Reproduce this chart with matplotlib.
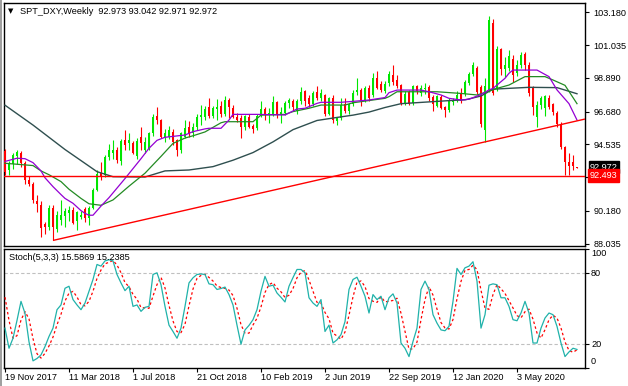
import matplotlib
matplotlib.use("Agg")
import matplotlib.pyplot as plt
import matplotlib.transforms as mtransforms
from matplotlib.patches import Rectangle
import numpy as np
import pandas as pd

plt.rcParams['font.family'] = ['Liberation Sans', 'DejaVu Sans']

# ---------------- data ----------------
title_text = "SPT_DXY,Weekly  92.973 93.042 92.971 92.972"
stoch_text = "Stoch(5,3,3) 15.5869 15.2385"

date_ticks = [0, 16, 32, 48, 64, 80, 96, 112, 128]
date_labels = ["19 Nov 2017", "11 Mar 2018", "1 Jul 2018", "21 Oct 2018", "10 Feb 2019",
               "2 Jun 2019", "22 Sep 2019", "12 Jan 2020", "3 May 2020"]

price_ticks = [103.180, 101.035, 98.890, 96.680, 94.535, 92.390, 90.180, 88.035]
price_labels = ["103.180", "101.035", "98.890", "96.680", "94.535", "", "90.180", "88.035"]
stoch_levels = [20, 80]
stoch_tick_vals = [0, 20, 80, 100]

opens = [94.10, 92.85, 93.25, 93.75, 94.00, 93.30, 92.20, 91.95, 90.85, 90.55,
         89.30, 89.10, 90.35, 89.00, 89.60, 89.85, 90.05, 90.25, 89.50, 89.78,
         90.30, 89.75, 90.40, 91.55, 92.65, 92.55, 93.70, 94.00, 94.20, 93.45,
         94.85, 94.60, 94.60, 93.75, 95.00, 94.20, 94.25, 95.25, 96.40, 96.10,
         94.95, 95.05, 95.35, 94.80, 94.15, 95.05, 95.70, 95.25, 95.65, 96.35,
         96.35, 96.95, 96.40, 96.85, 97.05, 96.55, 97.45, 96.90, 96.35, 96.25,
         95.65, 96.35, 95.75, 95.60, 96.55, 96.85, 96.50, 96.55, 97.30, 96.50,
         96.60, 97.25, 97.40, 96.70, 97.35, 98.05, 97.55, 97.20, 97.95, 97.55,
         97.75, 96.55, 97.55, 96.05, 96.25, 97.20, 96.70, 97.20, 97.95, 98.10,
         97.45, 98.25, 97.75, 98.85, 98.50, 98.00, 98.55, 99.05, 98.75, 98.40,
         97.25, 97.95, 97.25, 98.35, 97.90, 98.15, 98.30, 97.65, 97.05, 97.65,
         96.95, 96.80, 97.30, 97.45, 97.85, 97.85, 98.55, 99.15, 99.55, 98.30,
         95.45, 98.10, 102.50, 98.20, 100.80, 99.45, 99.55, 100.15, 99.20, 99.75,
         100.45, 99.75, 98.20, 96.35, 97.10, 96.90, 97.60, 97.15, 96.60, 95.90,
         94.35, 93.40, 93.40, 92.973]
highs = [94.25, 93.45, 94.00, 94.20, 94.10, 93.45, 92.45, 92.10, 91.20, 90.80,
         89.45, 90.55, 90.55, 90.20, 90.90, 90.40, 90.50, 90.45, 90.20, 90.15,
         90.45, 90.50, 91.65, 92.85, 93.40, 93.85, 94.55, 94.80, 94.35, 94.90,
         95.50, 95.30, 94.75, 94.95, 95.70, 95.00, 95.35, 96.50, 96.98, 96.20,
         95.55, 95.75, 95.55, 94.90, 95.35, 96.10, 96.05, 95.95, 96.55, 97.10,
         97.05, 97.55, 97.05, 97.50, 97.40, 97.70, 97.55, 97.10, 96.60, 96.45,
         96.45, 96.55, 95.90, 96.50, 97.40, 96.95, 96.90, 97.70, 97.40, 96.95,
         97.35, 97.55, 97.50, 97.50, 98.30, 98.10, 97.75, 98.00, 98.35, 98.15,
         97.85, 97.65, 97.75, 96.35, 97.55, 97.55, 97.25, 98.10, 98.90, 98.20,
         98.35, 98.45, 99.20, 99.35, 98.70, 98.70, 99.35, 99.70, 99.05, 98.50,
         98.00, 98.10, 98.45, 98.45, 98.45, 98.55, 98.45, 97.75, 97.80, 97.75,
         97.05, 97.55, 97.55, 98.05, 98.20, 98.75, 99.25, 99.90, 99.65, 98.40,
         98.85, 102.95, 102.75, 100.95, 100.85, 100.25, 100.70, 100.40, 100.05, 100.55,
         100.55, 99.90, 98.35, 97.35, 97.70, 97.75, 97.80, 97.25, 96.75, 96.00,
         94.45, 93.95, 93.85, 93.042]
lows = [92.55, 92.50, 92.95, 93.25, 93.05, 91.95, 91.80, 90.70, 90.10, 88.45,
        88.70, 88.95, 88.25, 88.80, 89.25, 89.15, 89.55, 89.35, 88.95, 89.62,
        89.45, 89.25, 90.30, 91.50, 92.20, 92.40, 93.50, 93.55, 93.35, 93.20,
        94.20, 94.20, 93.90, 93.60, 94.20, 93.95, 94.15, 95.10, 95.85, 94.95,
        94.70, 94.90, 94.50, 93.80, 93.95, 94.95, 95.05, 95.00, 95.50, 95.80,
        96.15, 96.25, 96.25, 96.10, 96.35, 96.40, 96.25, 96.25, 96.00, 94.95,
        95.45, 95.60, 95.25, 95.45, 96.35, 96.15, 95.95, 96.40, 96.25, 95.95,
        96.45, 96.90, 96.75, 96.55, 97.20, 97.05, 97.00, 97.05, 97.45, 97.40,
        96.40, 96.45, 95.95, 95.80, 96.10, 96.60, 96.55, 97.05, 97.80, 97.05,
        97.30, 97.40, 97.65, 98.15, 97.95, 97.90, 98.35, 98.45, 98.20, 97.10,
        97.10, 97.10, 97.10, 97.85, 97.70, 97.85, 97.40, 96.70, 96.95, 96.85,
        96.30, 96.65, 97.10, 97.30, 97.25, 97.70, 98.45, 99.00, 97.85, 95.70,
        94.70, 97.95, 97.75, 98.05, 99.10, 98.95, 99.35, 98.65, 99.00, 99.55,
        99.40, 97.70, 96.45, 95.70, 96.85, 96.40, 96.85, 96.45, 95.65, 94.25,
        92.55, 92.55, 92.85, 92.971]
closes = [92.75, 93.25, 93.85, 94.05, 93.30, 92.20, 91.95, 90.90, 90.65, 89.05,
          89.10, 90.40, 89.15, 89.90, 89.90, 90.20, 90.25, 89.40, 90.10, 89.92,
          89.75, 90.40, 91.55, 92.60, 92.45, 93.70, 94.20, 94.15, 93.50, 94.75,
          94.50, 94.80, 94.00, 94.75, 94.60, 94.70, 95.25, 96.35, 96.10, 95.05,
          95.25, 95.45, 94.70, 94.15, 95.25, 95.60, 95.30, 95.70, 96.35, 96.45,
          96.85, 96.40, 96.90, 97.00, 96.50, 97.45, 96.95, 96.35, 96.10, 95.65,
          96.40, 95.70, 95.55, 96.40, 96.85, 96.55, 96.60, 97.30, 96.55, 96.65,
          97.25, 97.45, 96.95, 97.40, 97.95, 97.40, 97.20, 97.90, 97.55, 97.90,
          96.50, 97.55, 96.15, 96.25, 97.10, 96.75, 97.15, 97.90, 98.10, 97.35,
          98.25, 97.55, 98.85, 98.20, 98.10, 98.50, 99.15, 98.65, 98.35, 97.25,
          97.85, 97.20, 98.35, 98.00, 98.20, 98.25, 97.60, 97.15, 97.70, 96.90,
          96.80, 97.40, 97.45, 97.75, 97.35, 98.65, 99.15, 99.70, 97.95, 95.90,
          98.35, 102.70, 97.90, 100.75, 99.45, 99.75, 100.30, 99.10, 99.75, 100.40,
          99.75, 97.90, 96.95, 97.10, 97.60, 97.70, 97.00, 96.65, 95.90, 94.35,
          93.40, 93.10, 93.10, 92.972]

# fast midline (purple)
purple_x = [0, 3, 5, 7, 9, 10, 12, 14, 15, 17, 19, 20, 21, 22, 24, 26, 30, 34, 36, 38,
            40, 45, 47, 50, 51, 54, 56, 57, 63, 70, 73, 75, 78, 79, 84, 86, 91, 95, 96, 98,
            104, 106, 109, 111, 114, 116, 119, 121, 122, 125, 126, 127, 133, 136, 138, 141, 143]
purple_y = [93.42, 93.63, 93.60, 93.34, 92.80, 92.35, 91.77, 91.25, 91.00, 90.68, 90.20, 90.02,
            89.90, 89.90, 90.50, 91.05, 92.30, 93.60, 94.28, 94.80, 95.00, 95.15, 95.37, 95.55,
            95.59, 95.59, 96.13, 96.50, 96.50, 96.46, 96.85, 96.90, 97.22, 97.29, 97.29, 97.33,
            97.44, 97.60, 97.92, 98.09, 98.09, 97.98, 97.77, 97.55, 97.44, 97.49, 97.80, 98.10,
            98.20, 98.86, 99.19, 99.40, 99.40, 98.97, 98.10, 97.20, 96.13]

# medium line (green)
green_x = [0, 7, 9, 11, 14, 16, 19, 21, 24, 27, 31, 35, 39, 42, 45, 47, 50, 54, 55, 62,
           64, 70, 72, 76, 79, 85, 87, 95, 96, 98, 108, 114, 118, 120, 123, 126, 130, 135,
           137, 140, 142, 143]
green_y = [93.30, 93.15, 92.80, 92.55, 92.10, 91.60, 91.00, 90.65, 90.55, 90.90, 91.80,
           92.65, 93.75, 94.60, 94.95, 95.10, 95.35, 95.95, 96.02, 96.02, 96.45, 96.50,
           96.68, 96.90, 97.11, 97.11, 97.26, 97.55, 97.66, 97.98, 97.98, 97.87, 97.77,
           97.93, 98.20, 98.42, 98.97, 98.97, 98.75, 98.40, 97.60, 97.20]

# slow line (dark slate)
slow_x = [0, 7, 15, 23, 27, 35, 40, 46, 52, 57, 62, 67, 72, 78, 83, 87, 91, 95, 99,
          111, 115, 119, 122, 131, 138, 143]
slow_y = [97.10, 95.80, 94.20, 92.75, 92.42, 92.40, 92.80, 92.86, 93.08, 93.50, 94.00,
          94.70, 95.50, 96.10, 96.30, 96.45, 96.65, 96.95, 97.20, 97.40, 97.45, 97.70,
          98.15, 98.27, 98.25, 97.85]

# support trend line anchors (bar, price)
trend_x = [12, 120]
trend_y = [88.25, 94.70]
hline_price = 92.493
last_price = 92.972

# Stochastic %K, plus two earlier values used for %D start
stoch_k = [33.5, 16.6, 25, 40, 56, 46, 22, 6, 8, 11,
           18, 26.5, 33.5, 49, 53, 67, 68.7, 57.5, 53, 49,
           54.6, 64.5, 74.4, 87, 85.6, 90, 91, 90, 78.6, 71.5,
           65, 68.7, 51.8, 53, 47.6, 51, 51.8, 78.6, 80, 70,
           51.8, 36, 30.7, 25, 33.5, 51.8, 71.5, 75.8, 78.6, 79,
           78.6, 70.7, 70, 66, 66.8, 68, 61.7, 53, 36, 20,
           32, 35.8, 40.6, 49, 64.5, 77, 68.7, 69.6, 63, 59.4,
           55.5, 68.7, 76, 82.8, 82.8, 80, 59, 54.6, 51.8, 57.5,
           30.7, 36, 21, 23.7, 28, 39, 66, 74.4, 76.3, 68.7,
           60.3, 46.2, 61.7, 57.5, 60.3, 49, 59, 62.3, 54.6, 21,
           16.6, 9.6, 22.3, 33.5, 66, 73, 66, 44.8, 37.7, 32,
           31.3, 35, 56, 83.7, 78.6, 84.2, 85.6, 89.3, 73, 33.5,
           44.8, 69.6, 70.7, 70, 59, 59, 51.8, 40.6, 39.7, 46.2,
           56, 46.2, 21, 21, 33.5, 42, 46.2, 44.8, 35, 21,
           9.6, 13.5, 16.6, 15.59]
stoch_k_prior = [75, 70]

# ---------------- figure ----------------
W, H = 628, 386
fig = plt.figure(figsize=(W / 100, H / 100), dpi=100)
fig.patch.set_facecolor('white')

def fx(px):
    return px / W

def fy(py):
    return 1 - py / H

L, R = 4, 585
ax = fig.add_axes([fx(L), fy(246), fx(R) - fx(L), fy(3) - fy(246)])
axs = fig.add_axes([fx(L), fy(368), fx(R) - fx(L), fy(249) - fy(368)])

# window border
fig.patches.append(Rectangle((0, 0), fx(2), 1, transform=fig.transFigure,
                             facecolor='#a0a0a0', edgecolor='none', zorder=0))

BULL = '#00e600'
BEAR = '#ff0000'
FS = 6.6

x = np.arange(len(closes))
o = np.array(opens); h = np.array(highs); l = np.array(lows); c = np.array(closes)
up = c >= o
cols = np.where(up, BULL, BEAR)

ax.vlines(x, l, h, colors=cols, linewidth=0.8, zorder=3)
body_bot = np.minimum(o, c)
body_h = np.maximum(np.abs(c - o), 0.06)
ax.bar(x, body_h, bottom=body_bot, width=0.74, color=cols, linewidth=0, zorder=4)

ax.plot(slow_x, slow_y, color='#2f4f4f', lw=1.0, zorder=5)
ax.plot(green_x, green_y, color='#238b23', lw=0.9, zorder=5)
ax.plot(purple_x, purple_y, color='#9400d3', lw=0.9, zorder=6)

# trend line extended to the right edge
xmin, xmax = -0.25, (R - 5) / 4
slope = (trend_y[1] - trend_y[0]) / (trend_x[1] - trend_x[0])
ax.plot([trend_x[0], xmax], [trend_y[0], trend_y[0] + slope * (xmax - trend_x[0])],
        color='#ff0000', lw=1.0, zorder=7, solid_capstyle='butt')
ax.axhline(hline_price, color='#ff0000', lw=1.0, zorder=7)

ytop = 103.18 + (12.3 - 3) / 15.28
ybot = 103.18 - (246 - 12.3) / 15.28
ax.set_xlim(xmin, xmax)
ax.set_ylim(ybot, ytop)
ax.set_xticks([])
ax.yaxis.tick_right()
ax.set_yticks(price_ticks)
ax.set_yticklabels(price_labels, fontsize=FS)
ax.tick_params(axis='y', direction='out', length=3, width=0.8, pad=3, colors='black')
for sp in ax.spines.values():
    sp.set_color('black'); sp.set_linewidth(1.0)

# price boxes
tr = mtransforms.blended_transform_factory(ax.transAxes, ax.transData)
xb = (590 - L) / (R - L)
ax.text(xb, last_price + 0.08, '%.3f' % last_price, transform=tr, fontsize=FS, color='white',
        va='center', ha='left', clip_on=False, zorder=20,
        bbox=dict(boxstyle='square,pad=0.15', fc='black', ec='black'))
ax.text(xb, hline_price, '%.3f' % hline_price, transform=tr, fontsize=FS, color='white',
        va='center', ha='left', clip_on=False, zorder=21,
        bbox=dict(boxstyle='square,pad=0.2', fc='#ff0000', ec='#ff0000'))

# title
fig.text(fx(8), fy(11.5), '\u25bc', fontsize=5, va='center', ha='left', color='black',
         family=['DejaVu Sans'])
fig.text(fx(20.5), fy(11.5), title_text, fontsize=FS, va='center', ha='left', color='black')

# ---------------- stochastic ----------------
k_all = pd.Series(stoch_k_prior + stoch_k)
d_all = k_all.rolling(3).mean().to_numpy()[len(stoch_k_prior):]
axs.plot(x, stoch_k, color='#20b2aa', lw=0.9, zorder=5)
axs.plot(x, d_all, color='#ff0000', lw=0.9, ls=(0, (2, 2)), zorder=4)
for lv in stoch_levels:
    axs.axhline(lv, color='#c0c0c0', lw=0.8, ls=(0, (3, 2)), zorder=1)
axs.set_xlim(xmin, xmax)
axs.set_ylim(0, 100)
axs.set_xticks(date_ticks)
axs.set_xticklabels([])
axs.tick_params(axis='x', direction='out', length=3, width=0.8)
axs.yaxis.tick_right()
axs.set_yticks(stoch_tick_vals)
axs.set_yticklabels([])
axs.tick_params(axis='y', direction='out', length=3, width=0.8)
for sp in axs.spines.values():
    sp.set_color('black'); sp.set_linewidth(1.0)

trs = mtransforms.blended_transform_factory(axs.transData, fig.transFigure)
for t, lab in zip(date_ticks, date_labels):
    axs.text(t, fy(378), lab, transform=trs, fontsize=FS, va='center', ha='left')

for val, ypx in zip(['100', '80', '20', '0'], [254, 273, 344.5, 361.3]):
    fig.text(fx(591), fy(ypx), val, fontsize=FS, va='center', ha='left')

fig.text(fx(9), fy(257), stoch_text, fontsize=FS, va='center', ha='left')

fig.savefig('out.png', dpi=100)
